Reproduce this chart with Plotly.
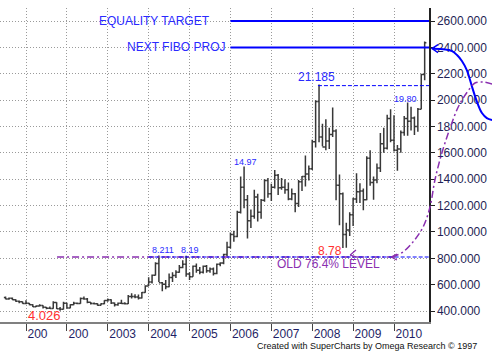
import plotly.graph_objects as go

# ---------------- data (monthly OHLC, price x100) ----------------
start_year, start_month = 2000, 7
opens = [503,492,497,486,475,471,
         458,460,448,433,438,442,429,422,420,465,418,414,
         460,424,447,460,457,496,492,466,458,456,445,455,
         480,485,462,448,460,458,455,510,510,507,500,540,
         591,620,671,760,615,604,585,655,670,695,730,755,
         682,660,740,710,695,740,705,720,685,755,765,830,
         885,980,965,1150,1340,1245,1085,1120,1265,1150,1240,1390,
         1290,1340,1430,1335,1340,1320,1250,1290,1215,1380,1420,1440,
         1480,1685,1990,1720,1645,1690,1740,1765,1355,1290,980,1015,
         1130,1250,1305,1310,1245,1560,1375,1395,1485,1670,1635,1860,
         1695,1620,1630,1755,1860,1840,1865,1800,1930,2195]
highs = [510,503,502,490,480,472,
         482,462,452,445,452,445,430,435,475,466,430,470,
         463,452,470,464,502,510,500,468,465,460,460,482,
         495,490,465,465,485,467,522,535,527,525,545,596,
         657,678,770,821,620,635,685,695,710,750,785,819,
         695,745,760,735,745,750,730,730,760,770,835,925,
         995,1010,1160,1420,1497,1280,1170,1320,1290,1250,1400,1410,
         1365,1470,1440,1410,1400,1375,1330,1295,1395,1425,1580,1505,
         1700,2000,2119,1820,1855,1790,1945,1780,1435,1300,1070,1150,
         1260,1445,1370,1330,1575,1620,1420,1520,1750,1790,1890,1930,
         1885,1660,1770,1880,1983,1950,1875,1940,2200,2445]
lows = [490,485,483,470,460,455,
        452,445,430,430,435,420,414,415,418,415,403,412,
        420,422,444,451,455,485,460,450,450,440,442,452,
        470,453,435,440,455,450,454,495,498,488,495,538,
        590,610,670,620,550,565,580,620,650,690,725,660,
        635,660,690,680,685,690,690,670,680,740,755,815,
        875,925,960,1140,1180,950,1030,1100,1080,1100,1230,1260,
        1235,1330,1280,1320,1290,1240,1240,1150,1190,1310,1345,1390,
        1470,1640,1680,1650,1620,1630,1720,1240,1050,878,880,970,
        1045,1220,1220,1165,1240,1350,1245,1370,1455,1600,1625,1680,
        1610,1465,1600,1730,1730,1770,1735,1760,1930,2150]
closes = [492,497,486,475,471,458,
          460,448,433,438,442,429,422,420,465,418,414,460,
          424,447,460,457,496,492,466,458,456,445,455,480,
          485,462,448,460,458,455,510,510,507,500,540,591,
          620,671,760,615,604,585,655,670,695,730,755,682,
          660,740,710,695,740,705,720,685,755,765,830,885,
          980,965,1150,1340,1245,1085,1120,1265,1150,1240,1390,1290,
          1340,1430,1335,1340,1320,1250,1290,1215,1380,1420,1440,1480,
          1685,1990,1720,1645,1690,1740,1765,1355,1290,980,1015,1130,
          1250,1305,1310,1245,1560,1375,1395,1485,1670,1635,1860,1695,
          1620,1630,1755,1860,1840,1865,1800,1930,2195,2435]

tick_years = [2001, 2002, 2003, 2004, 2005, 2006, 2007, 2008, 2009, 2010]
tick_text = ["200", "200", "2003", "2004", "2005", "2006", "2007", "2008", "2009", "2010"]
y_ticks = [400, 600, 800, 1000, 1200, 1400, 1600, 1800, 2000, 2200, 2400, 2600]

# horizontal study lines (year, value)
equality_x, equality_y = [2006.0, 2010.86], [2600, 2600]
fibo_x, fibo_y = [2006.0, 2010.86], [2400, 2400]
high_x, high_y = [2008.14, 2010.86], [2110, 2110]
old_purple_x, old_purple_y = [2001.76, 2010.02], [810, 810]
old_blue_x, old_blue_y = [2004.0, 2010.86], [810, 810]

# hand-drawn projection curves (year, value)
blue_curve_x = [2010.95, 2011.25, 2011.42, 2011.54, 2011.66, 2011.78, 2011.91, 2012.03, 2012.15, 2012.27, 2012.40]
blue_curve_y = [2390, 2385, 2372, 2342, 2297, 2228, 2099, 1986, 1902, 1864, 1849]
blue_head_x = [2011.076, 2010.929, 2011.076]
blue_head_y = [2422, 2391, 2361]
purple_curve_x = [2009.95, 2010.02, 2010.22, 2010.46, 2010.71, 2010.88, 2011.0, 2011.17, 2011.37,
                  2011.57, 2011.79, 2011.98, 2012.18, 2012.40]
purple_curve_y = [810, 817, 848, 923, 1037, 1189, 1394, 1599, 1788, 1948, 2061, 2130, 2137, 2122]
purple_head_x = [2010.07, 2009.93, 2010.07]
purple_head_y = [832, 810, 787]
low_arrow_x = [2009.07, 2008.93, 2009.09]
low_arrow_y = [863, 825, 810]

months_x = [start_year + (start_month - 1 + i) / 12 for i in range(len(opens))]

FONT = "Liberation Sans, Arial, sans-serif"
BLUE = "#0000ff"
TXTBLUE = "#2a2aff"
PURPLE = "#8a2fb0"
RED = "#ff3030"

fig = go.Figure()
fig.add_trace(go.Ohlc(x=months_x, open=opens, high=highs, low=lows, close=closes,
                      increasing=dict(line=dict(color="#383838", width=1.5)),
                      decreasing=dict(line=dict(color="#383838", width=1.5)),
                      tickwidth=0.5, hoverinfo="skip"))

def line(x, y, color, width, dash="solid", xa="x", ya="y", shape="linear"):
    fig.add_trace(go.Scatter(x=x, y=y, mode="lines", xaxis=xa, yaxis=ya,
                             line=dict(color=color, width=width, dash=dash, shape=shape),
                             hoverinfo="skip"))

line(equality_x, equality_y, BLUE, 2)
line(fibo_x, fibo_y, BLUE, 2)
line(high_x, high_y, BLUE, 1, "4px,2px")
line(old_purple_x, old_purple_y, PURPLE, 1.3, "7px,3px,2px,3px")
line(old_blue_x, old_blue_y, BLUE, 1, "4px,2px")
line(low_arrow_x, low_arrow_y, PURPLE, 1.3)
line(blue_curve_x, blue_curve_y, BLUE, 2, xa="x2", ya="y2", shape="spline")
line(blue_head_x, blue_head_y, BLUE, 1.5, xa="x2", ya="y2")
line(purple_curve_x, purple_curve_y, PURPLE, 1.5, "7px,3px,2px,3px", xa="x2", ya="y2", shape="spline")
line(purple_head_x, purple_head_y, PURPLE, 1.3, xa="x2", ya="y2")

ann = []
def text(x, y, s, color, size, anchor="left"):
    ann.append(dict(x=x, y=y, xref="x", yref="y", text=s, showarrow=False,
                    xanchor=anchor, yanchor="middle",
                    font=dict(family=FONT, size=size, color=color)))

text(2005.55, 2600, "EQUALITY TARGET", TXTBLUE, 12, "right")
text(2005.91, 2400, "NEXT FIBO PROJ", TXTBLUE, 12, "right")
text(2007.61, 2177, "21.185", TXTBLUE, 12)
text(2009.94, 2008, "19.80", TXTBLUE, 9)
text(2006.04, 1534, "14.97", TXTBLUE, 9)
text(2004.04, 860, "8.211", TXTBLUE, 9)
text(2004.75, 860, "8.19", TXTBLUE, 9)
text(2001.00, 367, "4.026", RED, 13)
text(2008.09, 853, "8.78", RED, 12)
text(2007.10, 757, "OLD 76.4% LEVEL", PURPLE, 12)
ann.append(dict(x=479 / 492, y=-0.0764, xref="paper", yref="paper", showarrow=False,
                text="Created with SuperCharts by Omega Research © 1997",
                xanchor="right", yanchor="middle",
                font=dict(family=FONT, size=9, color="#111111")))

fig.update_layout(
    width=492, height=363,
    margin=dict(l=0, r=0, t=8, b=41, pad=0),
    paper_bgcolor="white", plot_bgcolor="rgba(0,0,0,0)",
    showlegend=False,
    annotations=ann,
    xaxis=dict(domain=[0, 429 / 492], range=[2000.364, 2010.856],
               tickvals=tick_years, ticktext=tick_text,
               ticks="outside", ticklen=7, tickcolor="#444", tickwidth=1,
               ticklabelposition="outside right",
               tickfont=dict(family=FONT, size=12, color="#1f1f66"),
               showgrid=True, gridcolor="#9a9a9a", griddash="1px,2px", gridwidth=1,
               showline=True, linecolor="#808080", linewidth=2, zeroline=False,
               rangeslider=dict(visible=False), fixedrange=True),
    yaxis=dict(range=[317, 2699], side="right", tickvals=y_ticks, tickformat=".3f",
               ticks="outside", ticklen=4, tickcolor="#222",
               tickfont=dict(family=FONT, size=12, color="#1f1f55"),
               showgrid=True, gridcolor="#9a9a9a", griddash="1px,2px", gridwidth=1,
               showline=True, linecolor="#222", linewidth=1.5, zeroline=False),
    xaxis2=dict(domain=[0, 1], range=[2000.364, 2012.396], visible=False, anchor="y2"),
    yaxis2=dict(domain=[0, 1], range=[317, 2699], visible=False, anchor="x2"),
)

fig.write_html("out.html", config={"displayModeBar": False, "staticPlot": True},
               post_script="document.body.style.margin='0';document.body.style.padding='0';")
